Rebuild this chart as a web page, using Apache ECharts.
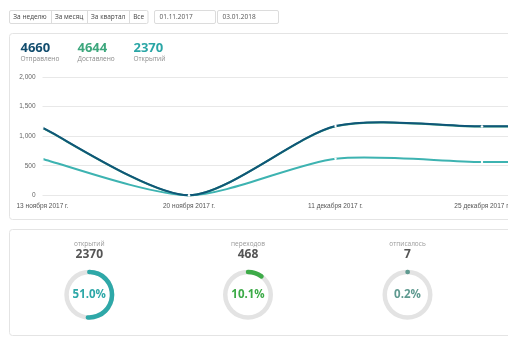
<!DOCTYPE html>
<html>
<head>
<meta charset="utf-8">
<script src="https://cdn.jsdelivr.net/npm/echarts@6/dist/echarts.min.js"></script>
<style>
html,body{margin:0;padding:0;background:#fff;}
#chart{width:508px;height:344px;}
</style>
</head>
<body>
<div id="chart"></div>
<script>
// Weekly mailing statistics
var weeks = ['13 ноября 2017 г.', '20 ноября 2017 г.', '11 декабря 2017 г.', '25 декабря 2017 г.', '1 января 2018 г.'];
var sent = [1143, 0, 1171, 1166, 1180];
var delivered = [1139, 0, 1167, 1162, 1176];
var opened = [614, 0, 619, 563, 574];

var totalsLabels = ['Отправлено', 'Доставлено', 'Открытий'];
var totals = [4660, 4644, 2370];

var funnelLabels = ['открытий', 'переходов', 'отписалось'];
var funnelCounts = [2370, 468, 7];
var funnelPercents = [51.0, 10.1, 0.2];

var periodButtons = ['За неделю', 'За месяц', 'За квартал', 'Все'];
var dateFrom = '01.11.2017';
var dateTo = '03.01.2018';

var yTicks = [0, 500, 1000, 1500, 2000];

var C_SENT = '#0f5678', C_DELIV = '#3da77d', C_OPEN = '#3db3b1';
var totalColors = ['#124d6e', '#3da77d', '#2aa6a6'];
var ringColors = ['#2ea8a8', '#3dab48', '#5f9a90'];
var SANS = '"Open Sans", sans-serif';
var ARIAL = '"Liberation Sans", Arial, sans-serif';
var CURVE_TENSION = 0.13;

var chart = echarts.init(document.getElementById('chart'), null, {renderer: 'canvas'});

var graphics = [];
// toolbar: period buttons
var btnX = [9, 51, 87.3, 129, 148.3];
graphics.push({type: 'rect', z: -5, shape: {x: 9.5, y: 10.5, width: 138.5, height: 13, r: 1.5},
  style: {fill: '#fff', stroke: '#dcdcdc', lineWidth: 1}});
for (var i = 0; i < periodButtons.length; i++) {
  if (i > 0) {
    graphics.push({type: 'line', z: -4, shape: {x1: Math.round(btnX[i]) + 0.5, y1: 10.5, x2: Math.round(btnX[i]) + 0.5, y2: 23.5},
      style: {stroke: '#dcdcdc', lineWidth: 1}});
  }
  graphics.push({type: 'text', z: -3, x: (btnX[i] + btnX[i + 1]) / 2, y: 17.2,
    style: {text: periodButtons[i], font: '6.5px ' + SANS, fill: '#444', align: 'center', verticalAlign: 'middle'}});
}
// date inputs
[[154.5, dateFrom], [217.5, dateTo]].forEach(function (d) {
  graphics.push({type: 'rect', z: -5, shape: {x: d[0], y: 10.5, width: 61, height: 13, r: 1.5},
    style: {fill: '#fff', stroke: '#dcdcdc', lineWidth: 1}});
  graphics.push({type: 'text', z: -3, x: d[0] + 5, y: 17.2,
    style: {text: d[1], font: '6.5px ' + SANS, fill: '#555', align: 'left', verticalAlign: 'middle'}});
});
// cards
graphics.push({type: 'rect', z: -10, shape: {x: 9.5, y: 33.5, width: 620, height: 186, r: 3},
  style: {fill: 'none', stroke: '#e4e4e4', lineWidth: 1}});
graphics.push({type: 'rect', z: -10, shape: {x: 9.5, y: 229.5, width: 620, height: 106, r: 3},
  style: {fill: 'none', stroke: '#e4e4e4', lineWidth: 1}});
// totals
var totX = [20.5, 77.5, 133.5];
for (var k = 0; k < totals.length; k++) {
  graphics.push({type: 'text', x: totX[k], y: 48, style: {text: String(totals[k]),
    font: 'bold 13px ' + SANS, fill: totalColors[k], align: 'left', verticalAlign: 'middle'}});
  graphics.push({type: 'text', x: totX[k], y: 59, style: {text: totalsLabels[k],
    font: '6.5px ' + SANS, fill: '#8a8a8a', align: 'left', verticalAlign: 'middle'}});
}
// funnel headers
var ringX = [89.3, 248, 407.5];
var ringY = 294.7;
for (var j = 0; j < funnelLabels.length; j++) {
  graphics.push({type: 'text', x: ringX[j], y: 244.5, style: {text: funnelLabels[j],
    font: '6.5px ' + SANS, fill: '#999', align: 'center', verticalAlign: 'middle'}});
  graphics.push({type: 'text', x: ringX[j], y: 255, style: {text: String(funnelCounts[j]),
    font: 'bold 12px ' + SANS, fill: '#555', align: 'center', verticalAlign: 'middle'}});
}

function ring(idx) {
  var c = ringColors[idx];
  return {
    type: 'gauge', center: [ringX[idx], ringY], radius: 25,
    startAngle: 90, endAngle: -270, min: 0, max: 100,
    pointer: {show: false},
    progress: {show: true, roundCap: true, width: 4.5, itemStyle: {color: c}},
    axisLine: {lineStyle: {width: 4.5, color: [[1, '#e3e3e3']]}},
    splitLine: {show: false}, axisTick: {show: false}, axisLabel: {show: false},
    title: {show: false},
    detail: {offsetCenter: [0, 0], formatter: function (v) { return v.toFixed(1) + '%'; },
      fontSize: 11.5, fontWeight: 'bold', fontFamily: SANS, color: c},
    data: [{value: funnelPercents[idx]}]
  };
}

// Smooth line drawn segment by segment as cubic curves (cardinal-style tangents),
// positioned through the cartesian coordinate system.
function curveSeries(name, values, color) {
  var n = values.length;
  return {
    name: name, type: 'custom', clip: false,
    data: values.map(function (v, idx) { return [idx, v]; }),
    encode: {x: 0, y: 1},
    renderItem: function (params, api) {
      var idx = params.dataIndex;
      var pt = function (m) { return api.coord([m, values[m]]); };
      var p0 = pt(idx);
      var children = [];
      if (idx < n - 1) {
        var p1 = pt(idx + 1);
        var pPrev = idx > 0 ? pt(idx - 1) : p0;
        var pNext = idx + 2 < n ? pt(idx + 2) : p1;
        children.push({
          type: 'bezierCurve',
          shape: {
            x1: p0[0], y1: p0[1], x2: p1[0], y2: p1[1],
            cpx1: p0[0] + (p1[0] - pPrev[0]) * CURVE_TENSION,
            cpy1: p0[1] + (p1[1] - pPrev[1]) * CURVE_TENSION,
            cpx2: p1[0] - (pNext[0] - p0[0]) * CURVE_TENSION,
            cpy2: p1[1] - (pNext[1] - p0[1]) * CURVE_TENSION
          },
          style: {stroke: color, lineWidth: 2, fill: null}
        });
      }
      children.push({type: 'circle', shape: {cx: p0[0], cy: p0[1], r: 1.2}, style: {fill: '#fff'}});
      return {type: 'group', children: children};
    }
  };
}

chart.setOption({
  animation: false,
  backgroundColor: '#fff',
  grid: {left: 42.5, right: 508 - (42.5 + 4 * 146.5), top: 77, bottom: 344 - 195.3,
    containLabel: false, outerBoundsMode: 'none'},
  xAxis: {
    type: 'category', data: weeks, boundaryGap: false,
    axisLine: {show: false}, axisTick: {show: false},
    axisLabel: {color: '#555', fontSize: 6.5, fontFamily: ARIAL, margin: 7, interval: 0}
  },
  yAxis: {
    type: 'value', min: yTicks[0], max: yTicks[yTicks.length - 1], interval: yTicks[1] - yTicks[0],
    axisLine: {show: false}, axisTick: {show: false},
    splitLine: {lineStyle: {color: '#e8e8e8', width: 1}},
    axisLabel: {color: '#666', fontSize: 6.5, fontFamily: ARIAL, margin: 7,
      formatter: function (v) { return v.toString().replace(/\B(?=(\d{3})+(?!\d))/g, ','); }}
  },
  series: [
    curveSeries('Доставлено', delivered, C_DELIV),
    curveSeries('Открытий', opened, C_OPEN),
    curveSeries('Отправлено', sent, C_SENT),
    ring(0), ring(1), ring(2)
  ],
  graphic: graphics
});
</script>
</body>
</html>
